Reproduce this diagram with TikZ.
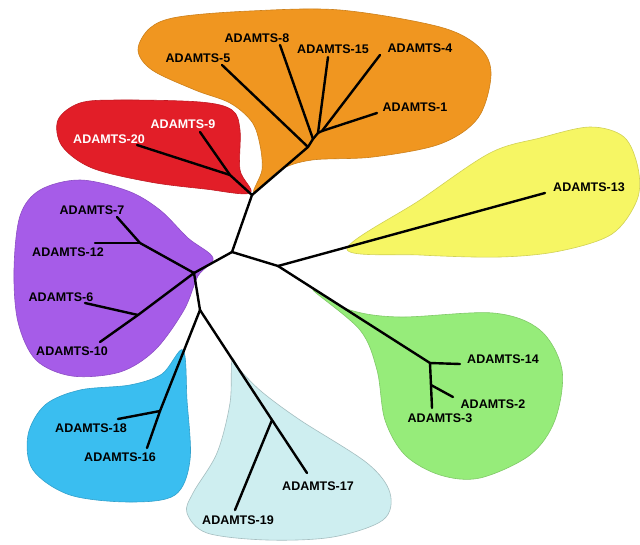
\documentclass[tikz,border=0pt]{standalone}
\usepackage{fontspec}
\setmainfont{Liberation Sans}
\begin{document}
\begin{tikzpicture}[x=1pt,y=-1pt,
  blob/.style={line width=0.6pt},
  br/.style={line width=2.4pt,line cap=round,line join=round,black},
  lab/.style={font=\fontsize{12.5}{14}\selectfont\bfseries,inner sep=0pt,text=black},
  wlab/.style={lab,text=white}]
\definecolor{corange}{RGB}{240,150,32}
\definecolor{cred}{RGB}{226,30,40}
\definecolor{cpurple}{RGB}{166,92,232}
\definecolor{cblue}{RGB}{58,190,240}
\definecolor{clblue}{RGB}{206,238,240}
\definecolor{cgreen}{RGB}{150,236,122}
\definecolor{cyellow}{RGB}{246,246,100}
\useasboundingbox (0,0) rectangle (640,544);
\fill[white] (0,0) rectangle (640,544);
% blobs
\filldraw[blob,fill=corange,draw=corange!85!black] plot[smooth cycle,tension=0.55] coordinates {
 (254,192) (262,170) (260,145) (252,122) (230,103) (195,90) (152,70) (138,50) (150,28) (178,17) (250,11) (340,10) (440,27) (480,48) (491,75) (478,118) (440,144) (373,157) (312,160) (280,170)};
\filldraw[blob,fill=cred,draw=cred!85!black] plot[smooth cycle,tension=0.55] coordinates {
 (250,193) (240,170) (240,130) (232,110) (200,102) (120,100) (80,103) (58,120) (62,146) (92,168) (150,182) (205,189)};
\filldraw[blob,fill=cyellow,draw=cyellow!85!black] plot[smooth cycle,tension=0.55] coordinates {
 (347,249) (420,200) (490,153) (540,138) (590,127) (624,137) (638,168) (637,200) (612,234) (560,251) (500,257) (420,255)};
\filldraw[blob,fill=cpurple,draw=cpurple!85!black] plot[smooth cycle,tension=0.55] coordinates {
 (213,258) (188,238) (160,210) (128,191) (80,180) (40,190) (20,216) (14,270) (18,322) (36,360) (72,376) (120,372) (155,350) (184,310) (198,276)};
\filldraw[blob,fill=cgreen,draw=cgreen!85!black] plot[smooth cycle,tension=0.55] coordinates {
 (313,290) (350,310) (400,317) (493,313) (540,330) (562,370) (555,420) (530,455) (480,478) (440,475) (405,455) (385,420) (377,370) (360,330)};
\filldraw[blob,fill=cblue,draw=cblue!85!black] plot[smooth cycle,tension=0.55] coordinates {
 (183,350) (187,400) (190,460) (175,495) (130,502) (70,495) (33,470) (28,435) (45,405) (80,390) (130,385) (162,374)};
\filldraw[blob,fill=clblue,draw=clblue!80!black] plot[smooth cycle,tension=0.55] coordinates {
 (232,360) (230,403) (217,453) (193,493) (187,513) (207,533) (267,540) (333,537) (383,520) (390,493) (367,463) (300,420) (262,392) (240,370)};
% tree coordinates
\coordinate (c1) at (252,195);
\coordinate (c2) at (232,252);
\coordinate (r) at (278,266);
\coordinate (p) at (194,273);
\coordinate (q) at (200,310);
\coordinate (o1) at (308,147);
\coordinate (o2) at (313,139);
\coordinate (o3) at (318,133);
\coordinate (o4) at (322,131);
\coordinate (rj) at (230,175);
\coordinate (g1) at (430,363);
\coordinate (g3) at (431,385);
\coordinate (pu) at (140,243);
\coordinate (pd) at (138,315);
\coordinate (b) at (160,411);
\coordinate (lb) at (272,420);
\coordinate (l5) at (222,65);
\coordinate (l8) at (280,45);
\coordinate (l15) at (328,57);
\coordinate (l4) at (380,55);
\coordinate (l1) at (377,113);
\coordinate (l20) at (137,145);
\coordinate (l9) at (200,132);
\coordinate (l13) at (545,193);
\coordinate (l14) at (460,364);
\coordinate (l3) at (432,408);
\coordinate (l2) at (453,397);
\coordinate (l7) at (117,217);
\coordinate (l12) at (95,243);
\coordinate (l6) at (85,303);
\coordinate (l10) at (100,342);
\coordinate (l18) at (118,419);
\coordinate (l16) at (147,448);
\coordinate (l17) at (307,473);
\coordinate (l19) at (235,510);
% branches
\draw[br] (c1) -- (o1);
\draw[br] (o1) -- (l5);
\draw[br] (o1) -- (o2) -- (o3) -- (o4);
\draw[br] (o2) -- (l8);
\draw[br] (o3) -- (l15);
\draw[br] (o4) -- (l4);
\draw[br] (o4) -- (l1);
\draw[br] (c1) -- (rj);
\draw[br] (rj) -- (l20);
\draw[br] (rj) -- (l9);
\draw[br] (c1) -- (c2);
\draw[br] (c2) -- (r);
\draw[br] (r) -- (l13);
\draw[br] (r) -- (g1);
\draw[br] (g1) -- (l14);
\draw[br] (g1) -- (l3);
\draw[br] (g3) -- (l2);
\draw[br] (c2) -- (p);
\draw[br] (p) -- (pu);
\draw[br] (pu) -- (l7);
\draw[br] (pu) -- (l12);
\draw[br] (p) -- (pd);
\draw[br] (pd) -- (l6);
\draw[br] (pd) -- (l10);
\draw[br] (p) -- (q);
\draw[br] (q) -- (b) -- (l16);
\draw[br] (b) -- (l18);
\draw[br] (q) -- (lb) -- (l17);
\draw[br] (lb) -- (l19);
% labels
\node[lab] (t5) at (198,58) {ADAMTS-5};
\node[lab] (t8) at (257,38) {ADAMTS-8};
\node[lab] (t15) at (333,49) {ADAMTS-15};
\node[lab] (t4) at (420,48) {ADAMTS-4};
\node[lab] (t1) at (415,107) {ADAMTS-1};
\node[wlab] (t9) at (183,124) {ADAMTS-9};
\node[wlab] (t20) at (109,139) {ADAMTS-20};
\node[lab] (t7) at (92,210) {ADAMTS-7};
\node[lab] (t12) at (68,252) {ADAMTS-12};
\node[lab] (t6) at (61,297) {ADAMTS-6};
\node[lab] (t10) at (72,351) {ADAMTS-10};
\node[lab] (t18) at (91,428) {ADAMTS-18};
\node[lab] (t16) at (120,457) {ADAMTS-16};
\node[lab] (t17) at (318,486) {ADAMTS-17};
\node[lab] (t19) at (238,520) {ADAMTS-19};
\node[lab] (t13) at (589,187) {ADAMTS-13};
\node[lab] (t14) at (503,359) {ADAMTS-14};
\node[lab] (t2) at (493,404) {ADAMTS-2};
\node[lab] (t3) at (440,418) {ADAMTS-3};
\end{tikzpicture}
\end{document}
